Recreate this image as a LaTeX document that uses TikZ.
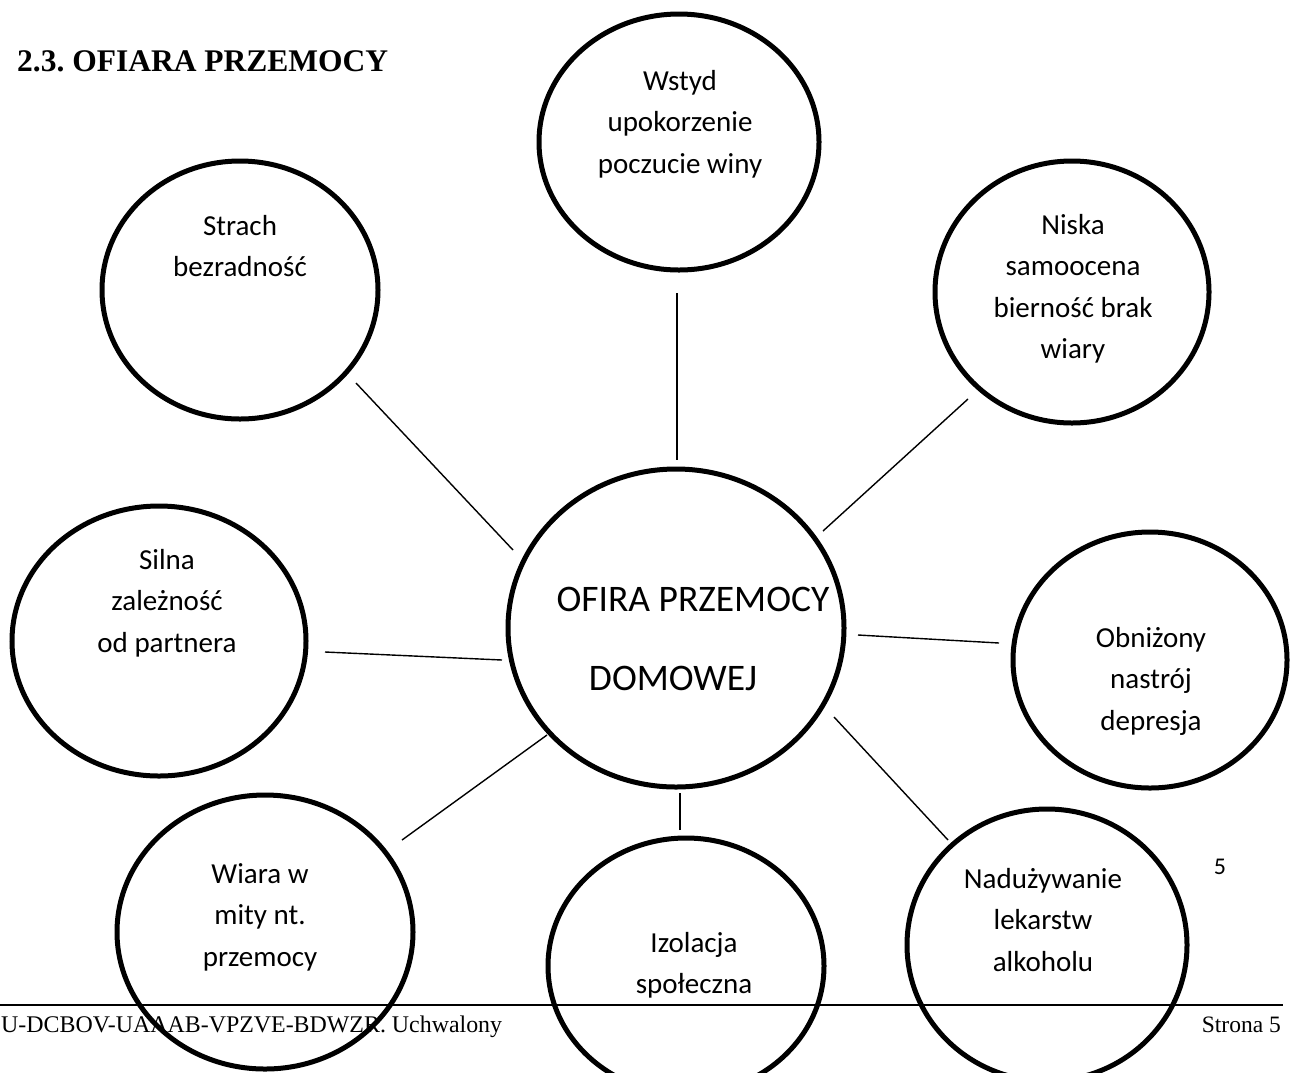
\documentclass[tikz,border=0pt]{standalone}
\usepackage{fontspec}
\setmainfont{Liberation Serif}
\newfontfamily\carlitofont{Carlito}
\usetikzlibrary{shapes.geometric}
\newcommand\bubbletext[1]{\begin{tabular}[t]{@{}c@{}}#1\end{tabular}}
\frenchspacing
\begin{document}
\begin{tikzpicture}[x=1pt,y=-1pt,
  bubble/.style={ellipse, draw, line width=5pt, inner sep=0pt},
  lbl/.style={font=\carlitofont\fontsize{29}{41.5}\selectfont, inner sep=0pt, anchor=base},
  conn/.style={line width=1.4pt},
  rule/.style={line width=2pt}
]
\useasboundingbox (0,0) rectangle (1292,1072);

% title
\node[anchor=base west, inner sep=0pt, font=\bfseries\fontsize{31.5}{36}\selectfont] (title) at (17,71) {2.3. OFIARA PRZEMOCY};

% bubbles
\node[bubble, minimum width=276pt, minimum height=258pt] (strach) at (240,290) {};
\node[bubble, minimum width=280pt, minimum height=256pt] (wstyd) at (679,142) {};
\node[bubble, minimum width=274pt, minimum height=262pt] (niska) at (1072,292) {};
\node[bubble, minimum width=294pt, minimum height=270pt] (silna) at (159,641) {};
\node[bubble, minimum width=336pt, minimum height=318pt] (ofiara) at (676,628) {};
\node[bubble, minimum width=274pt, minimum height=256pt] (obnizony) at (1150,660) {};
\node[bubble, minimum width=296pt, minimum height=274pt] (wiara) at (265,932) {};
\node[bubble, minimum width=276pt, minimum height=256pt] (izolacja) at (686,966) {};
\node[bubble, minimum width=280pt, minimum height=272pt] (naduz) at (1047,945) {};

% labels
\node[lbl] (strachT) at (240,235) {\bubbletext{Strach\\bezradność}};
\node[lbl] (wstydT) at (680,90) {\bubbletext{Wstyd\\upokorzenie\\poczucie winy}};
\node[lbl] (niskaT) at (1073,234) {\bubbletext{Niska\\samoocena\\bierność brak\\wiary}};
\node[lbl] (silnaT) at (167,569) {\bubbletext{Silna\\zależność\\od partnera}};
\node[lbl] (obnizonyT) at (1151,647) {\bubbletext{Obniżony\\nastrój\\depresja}};
\node[lbl] (wiaraT) at (260,883) {\bubbletext{Wiara w\\mity nt.\\przemocy}};
\node[lbl] (izolacjaT) at (694,952) {\bubbletext{Izolacja\\społeczna}};
\node[lbl] (naduzT) at (1043,888) {\bubbletext{Nadużywanie\\lekarstw\\alkoholu}};
\node[lbl, font=\carlitofont\fontsize{37.5}{79}\selectfont] (ofiaraT) at (673,611) {\bubbletext{\hspace*{40pt}OFIRA PRZEMOCY\\DOMOWEJ}};

% connector end points
\coordinate (wstydE) at (677,293);   \coordinate (ofiaraN) at (677,460);
\coordinate (niskaE) at (968,399);   \coordinate (ofiaraNE) at (823,531);
\coordinate (strachE) at (356,383);  \coordinate (ofiaraNW) at (513,550);
\coordinate (silnaE) at (325,652);   \coordinate (ofiaraW) at (502,660);
\coordinate (obnizonyE) at (999,643); \coordinate (ofiaraE) at (858,635);
\coordinate (wiaraE) at (402,840);   \coordinate (ofiaraSW) at (547,735);
\coordinate (naduzE) at (948,840);   \coordinate (ofiaraSE) at (834,717);
\coordinate (izolacjaE) at (680,830); \coordinate (ofiaraS) at (680,793);

\draw[conn] (wstydE) -- (ofiaraN);
\draw[conn] (niskaE) -- (ofiaraNE);
\draw[conn] (strachE) -- (ofiaraNW);
\draw[conn] (silnaE) -- (ofiaraW);
\draw[conn] (obnizonyE) -- (ofiaraE);
\draw[conn] (wiaraE) -- (ofiaraSW);
\draw[conn] (naduzE) -- (ofiaraSE);
\draw[conn] (izolacjaE) -- (ofiaraS);

% page footer
\node[anchor=base, inner sep=0pt, font=\carlitofont\fontsize{24}{28}\selectfont] (pagenum) at (1220,874) {5};
\coordinate (ruleL) at (0,1005);
\coordinate (ruleR) at (1283,1005);
\draw[rule] (ruleL) -- (ruleR);
\node[anchor=base west, inner sep=0pt, font=\fontsize{23.9}{28}\selectfont] (footL) at (1,1032) {U-DCBOV-UAAAB-VPZVE-BDWZR. Uchwalony};
\node[anchor=base east, inner sep=0pt, font=\fontsize{23.5}{28}\selectfont] (footR) at (1281,1032) {Strona 5};
\end{tikzpicture}
\end{document}
